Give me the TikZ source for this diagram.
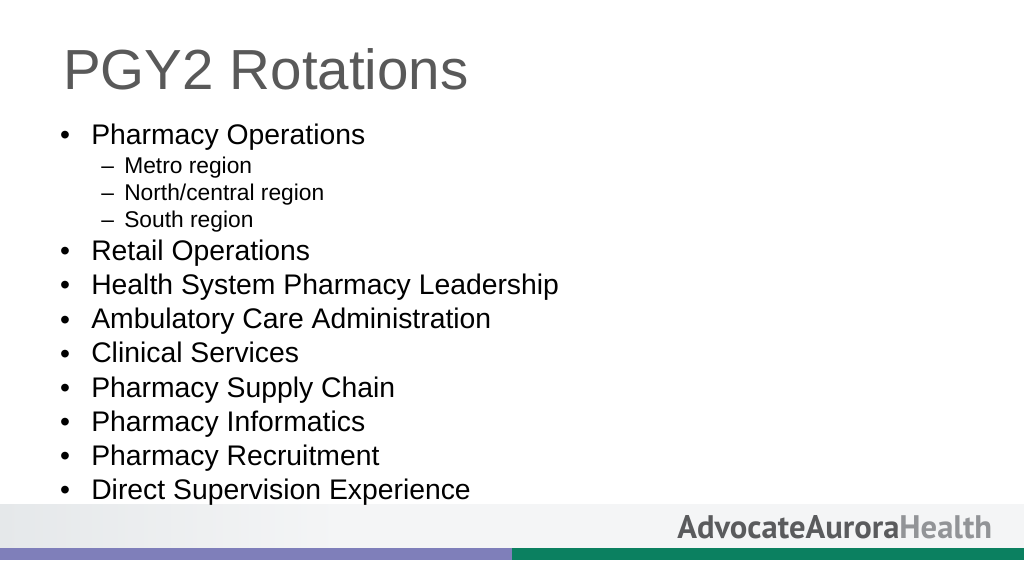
\documentclass[tikz,border=0pt]{standalone}
\usepackage{fontspec}
\setmainfont{Liberation Sans}
\newfontfamily\logofont{PT Sans}
\usetikzlibrary{positioning}
\definecolor{titlegray}{HTML}{595959}
\definecolor{bandpurple}{HTML}{7F7FBA}
\definecolor{bandgreen}{HTML}{0B8060}
\definecolor{banddark}{HTML}{E5E8EA}
\definecolor{bandlight}{HTML}{F4F5F6}
\definecolor{logodark}{HTML}{5A5B5D}
\definecolor{logolight}{HTML}{929497}
\tikzset{
  bullettext/.style={anchor=base west, inner sep=0pt, font=\fontsize{20.15}{24}\selectfont, text=black},
  bulletdot/.style={anchor=base, inner sep=0pt, font=\fontsize{20.15}{24}\selectfont, text=black},
  subtext/.style={anchor=base west, inner sep=0pt, font=\fontsize{16.2}{20}\selectfont, text=black},
}
\begin{document}
\begin{tikzpicture}[x=0.025cm,y=-0.025cm]
\useasboundingbox (0,0) rectangle (1024,576);
% footer band
\fill[left color=banddark, right color=bandlight] (0,504) rectangle (340,548);
\fill[bandlight] (340,504) rectangle (1024,548);
\fill[bandpurple] (0,548) rectangle (512,560);
\fill[bandgreen] (512,548) rectangle (1024,560);
% title
\node[anchor=base west, inner sep=0pt, text=titlegray, font=\fontsize{40.2}{48}\selectfont] (title) at (63,90) {PGY2 Rotations};
% list
\node[bulletdot] (b1) at (65,145) {•};
\node[bullettext] (pharmops) at (91,145) {Pharmacy Operations};
\node[subtext] (d1) at (101,174) {–};
\node[subtext] (metro) at (124,174) {Metro region};
\node[subtext] (d2) at (101,201) {–};
\node[subtext] (north) at (124,201) {North/central region};
\node[subtext] (d3) at (101,228) {–};
\node[subtext] (south) at (124,228) {South region};
\node[bulletdot] (b2) at (65,261) {•};
\node[bullettext] (retail) at (91,261) {Retail Operations};
\node[bulletdot] (b3) at (65,295) {•};
\node[bullettext] (leader) at (91,295) {Health System Pharmacy Leadership};
\node[bulletdot] (b4) at (65,329) {•};
\node[bullettext] (ambu) at (91,328.6) {Ambulatory Care Administration};
\node[bulletdot] (b5) at (65,363) {•};
\node[bullettext] (clinical) at (91,362.6) {Clinical Services};
\node[bulletdot] (b6) at (65,397) {•};
\node[bullettext] (supply) at (91,397) {Pharmacy Supply Chain};
\node[bulletdot] (b7) at (65,431) {•};
\node[bullettext] (inform) at (91,431) {Pharmacy Informatics};
\node[bulletdot] (b8) at (65,465) {•};
\node[bullettext] (recruit) at (91,465) {Pharmacy Recruitment};
\node[bulletdot] (b9) at (65,499) {•};
\node[bullettext] (direct) at (91,499) {Direct Supervision Experience};
% logo
\node[anchor=base west, inner sep=0pt, font=\logofont\bfseries\fontsize{23.2}{28}\selectfont] (logo) at (677,538) {\textcolor{logodark}{AdvocateAurora}\textcolor{logolight}{Health}};
\end{tikzpicture}
\end{document}
